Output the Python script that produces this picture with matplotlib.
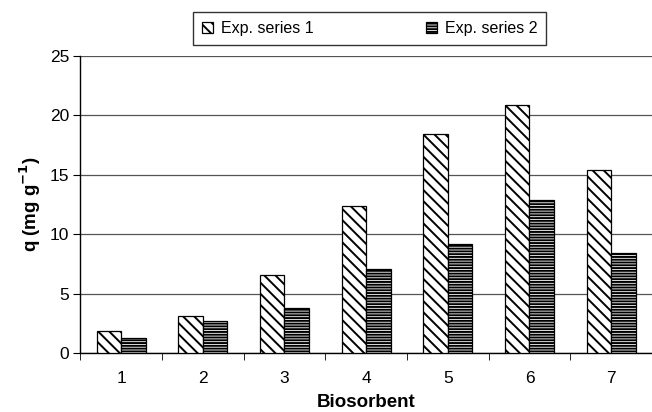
import matplotlib.pyplot as plt
import numpy as np

plt.rcParams['font.family'] = ['Liberation Sans', 'DejaVu Sans']
plt.rcParams['hatch.linewidth'] = 1.4

# Dane
biosorbents = ['1', '2', '3', '4', '5', '6', '7']
series1 = [1.9, 3.1, 6.6, 12.4, 18.4, 20.9, 15.4]
series2 = [1.3, 2.7, 3.8, 7.1, 9.2, 12.9, 8.4]
labels = ['Exp. series 1', 'Exp. series 2']


def main():
    fig = plt.figure(figsize=(6.52, 4.12), dpi=100)
    ax = fig.add_axes([0.123, 0.143, 0.877, 0.721])

    x = np.arange(1, len(biosorbents) + 1)
    w = 0.3
    b1 = ax.bar(x - w / 2, series1, w, color='white', edgecolor='black',
                hatch='\\\\\\', linewidth=0.9, label=labels[0], zorder=3)
    b2 = ax.bar(x + w / 2, series2, w, color='white', edgecolor='black',
                hatch='------', linewidth=0.9, label=labels[1], zorder=3)

    ax.set_xlim(0.5, 7.5)
    ax.set_ylim(0, 25)
    ax.set_yticks([0, 5, 10, 15, 20, 25])
    ax.yaxis.grid(True, color='#555555', linewidth=0.9)
    ax.set_axisbelow(True)

    ax.set_xticks(x)
    ax.set_xticklabels(biosorbents)
    ax.set_xticks(np.arange(0.5, 8.0, 1.0), minor=True)
    ax.tick_params(axis='x', which='major', length=0, pad=13, labelsize=12.5)
    ax.tick_params(axis='x', which='minor', length=5, direction='out')
    ax.tick_params(axis='y', length=5, direction='out', labelsize=12.5, pad=3)

    for s in ['top', 'right']:
        ax.spines[s].set_visible(False)
    ax.spines['left'].set_linewidth(1.0)
    ax.spines['bottom'].set_linewidth(1.0)

    ax.set_xlabel('Biosorbent', fontsize=13.5, fontweight='bold', labelpad=6)
    ax.set_ylabel('q (mg g$^{\\mathbf{-1}}$)', fontsize=13.5, fontweight='bold', labelpad=5)

    leg = fig.legend(handles=[b1, b2], labels=labels, loc='center',
                     bbox_to_anchor=(0.567, 0.931), ncol=2, frameon=True,
                     fancybox=False, edgecolor='black', fontsize=11.5,
                     handlelength=0.7, handleheight=0.7, handletextpad=0.5,
                     columnspacing=7.0, borderpad=0.55, borderaxespad=0)
    leg.get_frame().set_linewidth(1.0)

    fig.savefig('out.png', dpi=100)
    plt.close(fig)


if __name__ == "__main__":
    main()
